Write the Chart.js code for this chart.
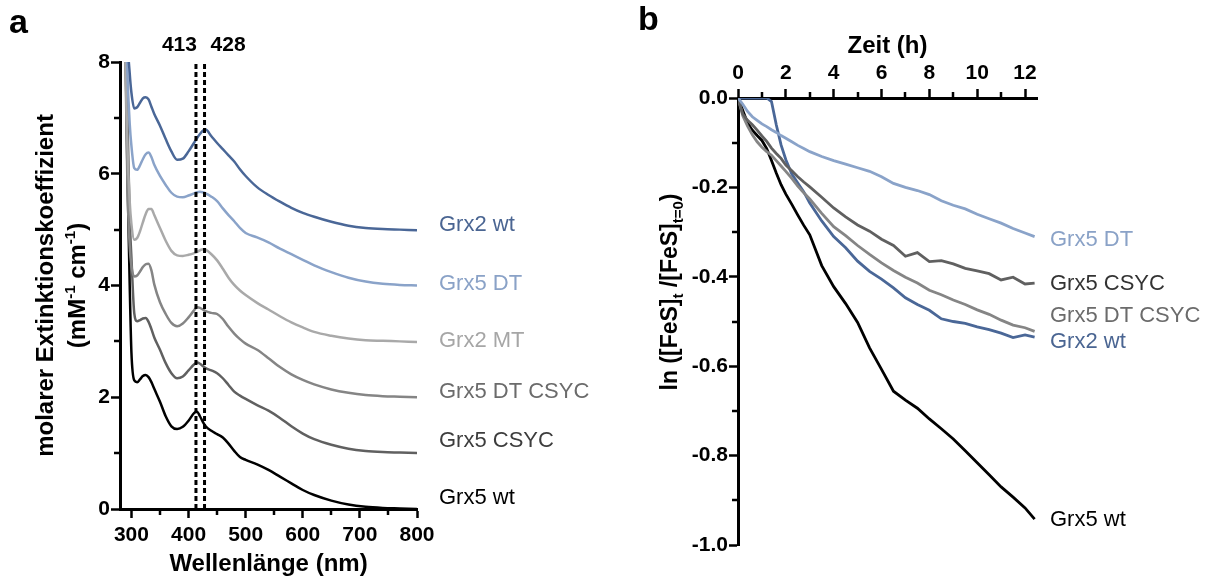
<!DOCTYPE html>
<html>
<head>
<meta charset="utf-8">
<script src="https://cdn.jsdelivr.net/npm/chart.js@4.4.1/dist/chart.umd.min.js"></script>
<style>
  html, body { margin: 0; padding: 0; background: #fff; }
  #wrap { position: relative; width: 1228px; height: 583px; overflow: hidden; }
  #wrap canvas { position: absolute; top: 0; }
  #chart-a { left: 0; }
  #chart-b { left: 614px; }
</style>
</head>
<body>
<div id="wrap">
  <canvas id="chart-a" width="614" height="583"></canvas>
  <canvas id="chart-b" width="614" height="583"></canvas>
</div>
<script>
/*
  ==================================================
  ==================== DATA (a) ====================
  ==================================================
*/

let wavelength = [283, 288, 293, 297, 300, 305, 310, 315, 320, 325, 330, 335, 340, 350, 360, 370, 380, 390, 400, 410, 415, 420, 425, 430, 440, 450, 460, 470, 480, 490, 500, 520, 540, 560, 580, 600, 620, 650, 680, 710, 740, 770, 800];

let specGrx2wt = [14, 11, 8.5, 7.8, 7.45, 7.17, 7.19, 7.27, 7.35, 7.37, 7.33, 7.20, 7.07, 6.86, 6.62, 6.40, 6.25, 6.27, 6.40, 6.56, 6.64, 6.71, 6.77, 6.79, 6.67, 6.55, 6.44, 6.33, 6.22, 6.08, 5.96, 5.76, 5.62, 5.50, 5.39, 5.30, 5.23, 5.14, 5.07, 5.03, 5.01, 5.00, 4.99];
let specGrx5DT = [14, 10, 7.8, 6.9, 6.5, 6.10, 6.07, 6.15, 6.26, 6.35, 6.38, 6.30, 6.16, 5.96, 5.80, 5.66, 5.59, 5.58, 5.61, 5.65, 5.67, 5.68, 5.67, 5.65, 5.59, 5.51, 5.38, 5.26, 5.15, 5.03, 4.94, 4.86, 4.77, 4.66, 4.56, 4.46, 4.36, 4.24, 4.14, 4.07, 4.03, 4.01, 4.00];
let specGrx2MT = [14, 9, 6.5, 5.5, 5.1, 4.82, 4.85, 4.97, 5.13, 5.28, 5.37, 5.37, 5.26, 5.03, 4.80, 4.62, 4.54, 4.53, 4.55, 4.58, 4.60, 4.63, 4.65, 4.64, 4.56, 4.45, 4.30, 4.14, 4.01, 3.91, 3.83, 3.69, 3.57, 3.45, 3.34, 3.25, 3.17, 3.10, 3.05, 3.02, 3.01, 3.00, 2.99];
let specGrx5DTCSYC = [14, 9, 5.8, 4.7, 4.35, 4.16, 4.18, 4.25, 4.33, 4.38, 4.39, 4.27, 4.02, 3.70, 3.49, 3.33, 3.27, 3.32, 3.43, 3.56, 3.61, 3.60, 3.57, 3.54, 3.51, 3.49, 3.40, 3.26, 3.14, 3.04, 2.96, 2.85, 2.70, 2.54, 2.41, 2.31, 2.23, 2.14, 2.08, 2.04, 2.02, 2.01, 2.00];
let specGrx5CSYC = [14, 10, 7.0, 5.2, 4.5, 3.50, 3.36, 3.38, 3.41, 3.42, 3.35, 3.22, 3.07, 2.85, 2.61, 2.43, 2.34, 2.37, 2.48, 2.59, 2.62, 2.60, 2.56, 2.52, 2.48, 2.43, 2.34, 2.22, 2.10, 2.03, 1.97, 1.86, 1.76, 1.63, 1.48, 1.35, 1.25, 1.15, 1.08, 1.04, 1.02, 1.01, 1.00];
let specGrx5wt = [14, 9.5, 6.0, 4.0, 2.8, 2.30, 2.27, 2.32, 2.38, 2.40, 2.36, 2.27, 2.15, 1.92, 1.66, 1.48, 1.43, 1.47, 1.58, 1.72, 1.74, 1.66, 1.56, 1.48, 1.40, 1.34, 1.28, 1.17, 1.04, 0.93, 0.88, 0.80, 0.70, 0.58, 0.46, 0.34, 0.25, 0.15, 0.08, 0.04, 0.02, 0.01, 0.00];

let markLines = [413, 428];
let xTicksA = [300, 400, 500, 600, 700, 800];
let xMinorA = [350, 450, 550, 650, 750];
let yTicksA = [0, 2, 4, 6, 8];
let yMinorA = [1, 3, 5, 7];

/*
  ==================================================
  ==================== DATA (b) ====================
  ==================================================
*/

let hours = [0, 0.2, 0.4, 0.6, 0.8, 1.0, 1.2, 1.4, 1.6, 1.8, 2.0, 2.25, 2.5, 2.75, 3.0, 3.5, 4.0, 4.5, 5.0, 5.5, 6.0, 6.5, 7.0, 7.5, 8.0, 8.5, 9.0, 9.5, 10.0, 10.5, 11.0, 11.5, 12.0, 12.4];

let lnGrx5DT = [0, -0.014, -0.030, -0.042, -0.050, -0.058, -0.064, -0.071, -0.077, -0.084, -0.090, -0.098, -0.106, -0.113, -0.120, -0.131, -0.140, -0.148, -0.156, -0.164, -0.176, -0.191, -0.200, -0.207, -0.216, -0.230, -0.240, -0.248, -0.260, -0.270, -0.280, -0.292, -0.302, -0.310];
let lnGrx5CSYC = [0, -0.036, -0.050, -0.060, -0.072, -0.085, -0.097, -0.112, -0.124, -0.135, -0.150, -0.163, -0.176, -0.188, -0.199, -0.222, -0.246, -0.266, -0.284, -0.298, -0.316, -0.330, -0.354, -0.346, -0.366, -0.364, -0.371, -0.381, -0.387, -0.393, -0.407, -0.401, -0.416, -0.414];
let lnGrx5DTCSYC = [0, -0.040, -0.063, -0.082, -0.098, -0.110, -0.120, -0.128, -0.140, -0.152, -0.164, -0.180, -0.197, -0.212, -0.226, -0.258, -0.288, -0.308, -0.330, -0.350, -0.369, -0.386, -0.401, -0.414, -0.430, -0.440, -0.452, -0.462, -0.474, -0.484, -0.497, -0.508, -0.514, -0.522];
let lnGrx2wt = [0, 0, 0, 0, 0, 0, 0, -0.008, -0.060, -0.105, -0.138, -0.170, -0.190, -0.210, -0.235, -0.275, -0.310, -0.335, -0.365, -0.388, -0.405, -0.425, -0.447, -0.462, -0.475, -0.494, -0.500, -0.504, -0.512, -0.518, -0.526, -0.536, -0.530, -0.535];
let lnGrx5wt = [0, -0.028, -0.056, -0.072, -0.084, -0.095, -0.113, -0.140, -0.168, -0.194, -0.215, -0.238, -0.262, -0.285, -0.306, -0.375, -0.422, -0.460, -0.502, -0.559, -0.607, -0.656, -0.676, -0.694, -0.718, -0.740, -0.763, -0.789, -0.816, -0.843, -0.870, -0.893, -0.917, -0.942];

let xTicksB = [0, 2, 4, 6, 8, 10, 12];
let xMinorB = [1, 3, 5, 7, 9, 11];
let yTicksB = [0, -0.2, -0.4, -0.6, -0.8, -1.0];
let yTickLabelsB = ['0.0', '-0.2', '-0.4', '-0.6', '-0.8', '-1.0'];
let yMinorB = [-0.1, -0.3, -0.5, -0.7, -0.9];

/*
  ==================================================
  ===================== STYLE =====================
  ==================================================
*/

const FONT = "'Liberation Sans', Arial, Helvetica, sans-serif";
Chart.defaults.font.family = FONT;
Chart.defaults.color = '#000';

const C = {
  darkBlue: '#4a6797',
  lightBlue: '#8aa3c9',
  lightGrey: '#a9a9a9',
  midGrey: '#858585',
  darkGrey: '#606060',
  black: '#000000'
};

// line style, text colour, label shift (px) from the last value
let seriesA = [
  { name: 'Grx2 wt', vals: specGrx2wt, color: C.darkBlue, text: '#4a6592', dy: -5 },
  { name: 'Grx5 DT', vals: specGrx5DT, color: C.lightBlue, text: '#8aa2c7', dy: -2 },
  { name: 'Grx2 MT', vals: specGrx2MT, color: C.lightGrey, text: '#a6a6a6', dy: -1 },
  { name: 'Grx5 DT CSYC', vals: specGrx5DTCSYC, color: C.midGrey, text: '#6b6b6b', dy: -5 },
  { name: 'Grx5 CSYC', vals: specGrx5CSYC, color: C.darkGrey, text: '#3d3d3d', dy: -12 },
  { name: 'Grx5 wt', vals: specGrx5wt, color: C.black, text: '#000', dy: -11 }
];

let seriesB = [
  { name: 'Grx5 DT', vals: lnGrx5DT, color: C.lightBlue, text: '#8aa2c7', dy: 3 },
  { name: 'Grx5 CSYC', vals: lnGrx5CSYC, color: C.darkGrey, text: '#333', dy: 1 },
  { name: 'Grx5 DT CSYC', vals: lnGrx5DTCSYC, color: C.midGrey, text: '#6b6b6b', dy: -15 },
  { name: 'Grx2 wt', vals: lnGrx2wt, color: C.darkBlue, text: '#4a6592', dy: 5 },
  { name: 'Grx5 wt', vals: lnGrx5wt, color: C.black, text: '#000', dy: 1 }
];

/*
  ==================================================
  ==================== HELPERS ====================
  ==================================================
*/

function axisStyle(tickSize) {
  return {
    grid: { display: true, drawOnChartArea: false, drawTicks: true, tickLength: 9, tickWidth: 2.5, tickColor: '#000' },
    border: { display: true, color: '#000', width: 3 },
    ticks: { autoSkip: false, maxRotation: 0, color: '#000', font: { size: tickSize, weight: 'bold' } }
  };
}

function drawMinor(chart, xs, ys, len, xOnTop) {
  let { ctx, chartArea, scales } = chart;
  ctx.save();
  ctx.strokeStyle = '#000';
  ctx.lineWidth = 2.5;
  ctx.beginPath();
  xs.forEach(v => {
    let px = Math.round(scales.x.getPixelForValue(v));
    let y0 = xOnTop ? chartArea.top : chartArea.bottom;
    ctx.moveTo(px, y0);
    ctx.lineTo(px, xOnTop ? y0 - len : y0 + len);
  });
  ys.forEach(v => {
    let py = Math.round(scales.y.getPixelForValue(v));
    ctx.moveTo(chartArea.left, py);
    ctx.lineTo(chartArea.left - len, py);
  });
  ctx.stroke();
  ctx.restore();
}

// text with super/subscripts; cx/cy = centre of the run on its baseline
function drawRich(ctx, parts, cx, cy, rotate) {
  ctx.save();
  ctx.translate(cx, cy);
  if (rotate) ctx.rotate(-Math.PI / 2);
  ctx.textAlign = 'left';
  ctx.textBaseline = 'alphabetic';
  ctx.fillStyle = '#000';
  let total = 0;
  parts.forEach(p => { ctx.font = p.font; total += ctx.measureText(p.text).width; });
  let x = -total / 2;
  parts.forEach(p => {
    ctx.font = p.font;
    ctx.fillText(p.text, x, p.dy || 0);
    x += ctx.measureText(p.text).width;
  });
  ctx.restore();
}

function drawEndLabels(chart, series, gap) {
  let { ctx, chartArea, scales } = chart;
  ctx.save();
  ctx.font = `22px ${FONT}`;
  ctx.textAlign = 'left';
  ctx.textBaseline = 'middle';
  series.forEach(s => {
    let y = scales.y.getPixelForValue(s.vals[s.vals.length - 1]) + s.dy;
    ctx.fillStyle = s.text;
    ctx.fillText(s.name, chartArea.right + gap, y);
  });
  ctx.restore();
}

function panelLetter(ctx, letter, x, y) {
  ctx.save();
  ctx.font = `bold 34px ${FONT}`;
  ctx.fillStyle = '#000';
  ctx.textBaseline = 'alphabetic';
  ctx.fillText(letter, x, y);
  ctx.restore();
}

/*
  ==================================================
  ==================== CHART (a) ====================
  ==================================================
*/

let bold = s => `bold ${s}px ${FONT}`;

let decorA = {
  id: 'decorA',
  afterDraw(chart) {
    let { ctx, chartArea, scales } = chart;
    drawMinor(chart, xMinorA, yMinorA, 6, false);

    let mid = (chartArea.top + chartArea.bottom) / 2;
    drawRich(ctx, [{ text: 'molarer Extinktionskoeffizient', font: bold(24) }], 53, mid, true);
    drawRich(ctx, [
      { text: '(mM', font: bold(24) },
      { text: '-1', font: bold(15), dy: -10 },
      { text: ' cm', font: bold(24) },
      { text: '-1', font: bold(15), dy: -10 },
      { text: ')', font: bold(24) }
    ], 85, mid, true);

    ctx.save();
    ctx.font = bold(21);
    ctx.fillStyle = '#000';
    ctx.textBaseline = 'middle';
    ctx.textAlign = 'right';
    ctx.fillText(String(markLines[0]), scales.x.getPixelForValue(markLines[0]) + 1, 45);
    ctx.textAlign = 'left';
    ctx.fillText(String(markLines[1]), scales.x.getPixelForValue(markLines[1]) + 6, 45);
    ctx.restore();

    drawEndLabels(chart, seriesA, 22);
    panelLetter(ctx, 'a', 9, 33);
  }
};

let dashSets = markLines.map(w => ({
  data: [{ x: w, y: yTicksA[0] }, { x: w, y: yTicksA[yTicksA.length - 1] }],
  borderColor: '#000',
  borderWidth: 3,
  borderDash: [5, 3],
  pointRadius: 0
}));

let specSets = seriesA.map(s => ({
  label: s.name,
  data: wavelength.map((w, i) => ({ x: w, y: s.vals[i] })),
  borderColor: s.color,
  borderWidth: 2.5,
  pointRadius: 0,
  cubicInterpolationMode: 'monotone',
  fill: false
}));

let axA = axisStyle(21);

new Chart(document.getElementById('chart-a'), {
  type: 'line',
  data: { datasets: [...dashSets, ...specSets] },
  options: {
    responsive: false,
    animation: false,
    devicePixelRatio: 1,
    layout: { padding: { left: 0, right: 197, top: 62, bottom: 0 } },
    plugins: { legend: { display: false }, tooltip: { enabled: false } },
    scales: {
      x: {
        type: 'linear', min: 280, max: 800,
        ...axA,
        ticks: { ...axA.ticks, padding: 5 },
        afterBuildTicks: s => { s.ticks = xTicksA.map(v => ({ value: v })); },
        afterFit: s => { s.height = 74; },
        title: { display: true, text: 'Wellenlänge (nm)', color: '#000', font: { size: 24, weight: 'bold' }, padding: { top: 0, bottom: 4 } }
      },
      y: {
        type: 'linear', min: 0, max: 8,
        ...axA,
        ticks: { ...axA.ticks, padding: 1 },
        afterBuildTicks: s => { s.ticks = yTicksA.map(v => ({ value: v })); },
        afterFit: s => { s.width = 120; }
      }
    }
  },
  plugins: [decorA]
});

/*
  ==================================================
  ==================== CHART (b) ====================
  ==================================================
*/

let decorB = {
  id: 'decorB',
  afterDraw(chart) {
    let { ctx } = chart;
    drawMinor(chart, xMinorB, yMinorB, 6, true);

    drawRich(ctx, [
      { text: 'ln ([FeS]', font: bold(23) },
      { text: 't', font: bold(15), dy: 6 },
      { text: ' /[FeS]', font: bold(23) },
      { text: 't=0', font: bold(15), dy: 6 },
      { text: ')', font: bold(23) }
    ], 63, 292, true);

    drawEndLabels(chart, seriesB, 13);
    panelLetter(ctx, 'b', 24, 30);
  }
};

let lnSets = seriesB.map(s => ({
  label: s.name,
  data: hours.map((t, i) => ({ x: t, y: s.vals[i] })),
  borderColor: s.color,
  borderWidth: 2.8,
  pointRadius: 0,
  tension: 0,
  fill: false
}));

let axB = axisStyle(21);

new Chart(document.getElementById('chart-b'), {
  type: 'line',
  data: { datasets: lnSets },
  options: {
    responsive: false,
    animation: false,
    devicePixelRatio: 1,
    layout: { padding: { left: 0, right: 191, top: 0, bottom: 38 } },
    plugins: { legend: { display: false }, tooltip: { enabled: false } },
    scales: {
      x: {
        type: 'linear', position: 'top', min: 0, max: 12.5,
        ...axB,
        ticks: { ...axB.ticks, padding: 3 },
        afterBuildTicks: s => { s.ticks = xTicksB.map(v => ({ value: v })); },
        afterFit: s => { s.height = 98; },
        title: { display: true, text: 'Zeit (h)', color: '#000', font: { size: 24, weight: 'bold' }, padding: { top: 32, bottom: 0 } }
      },
      y: {
        type: 'linear', min: -1, max: 0,
        ...axB,
        ticks: { ...axB.ticks, padding: 1, callback: (v, i) => yTickLabelsB[i] },
        afterBuildTicks: s => { s.ticks = yTicksB.map(v => ({ value: v })); },
        afterFit: s => { s.width = 124; }
      }
    }
  },
  plugins: [decorB]
});
</script>
</body>
</html>
